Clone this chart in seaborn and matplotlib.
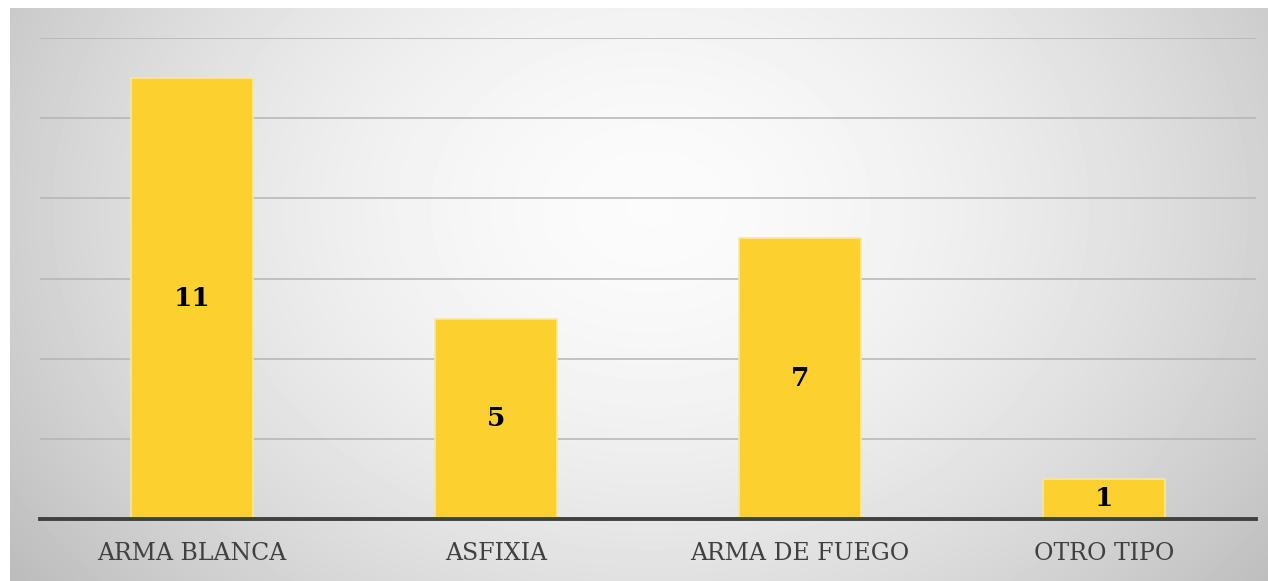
import matplotlib.pyplot as plt
import numpy as np
import pandas as pd
import seaborn as sns

# Data
categorias = ["ARMA BLANCA", "ASFIXIA", "ARMA DE FUEGO", "OTRO TIPO"]
casos = [11, 5, 7, 1]

df = pd.DataFrame({"categoria": categorias, "casos": casos})

sns.set_style("white")
plt.rcParams["font.family"] = ["DejaVu Serif", "DejaVu Sans"]

fig = plt.figure(figsize=(12.68, 5.81), dpi=100)

# Background with radial gradient (grey frame area)
bg = fig.add_axes([10 / 1268, 0, 1258 / 1268, 573 / 581])
bg.set_axis_off()
h, w = 573, 1258
yy, xx = np.mgrid[0:h, 0:w]
cx, cy = 640, 200
r = np.sqrt(((xx - cx) / 720) ** 2 + ((yy - cy) / 560) ** 2)
shade = 0.985 - 0.21 * np.clip(r, 0, 1.2) ** 1.7
bg.imshow(shade, cmap="gray", vmin=0, vmax=1, aspect="auto", interpolation="bilinear")

ax = fig.add_axes([40 / 1268, 62 / 581, 1216 / 1268, 481 / 581])
ax.patch.set_alpha(0)

sns.barplot(data=df, x="categoria", y="casos", color="#FCD02E", width=0.4,
            saturation=1, edgecolor="#F6E7A6", linewidth=1.2, ax=ax, zorder=3)

ax.set_ylim(0, 12)
ax.set_xlim(-0.5, 3.5)
ax.set_yticks(range(0, 13, 2))
ax.yaxis.grid(True, color="#b4b4b4", linewidth=1.1, zorder=0)
ax.set_axisbelow(True)
ax.tick_params(axis="y", left=False, labelleft=False)
ax.tick_params(axis="x", bottom=False, labelsize=17, labelcolor="#404040", pad=13)
for s in ["top", "left", "right"]:
    ax.spines[s].set_visible(False)
ax.spines["bottom"].set_color("#404040")
ax.spines["bottom"].set_linewidth(2.8)
ax.spines["bottom"].set_zorder(5)
ax.set_xlabel("")
ax.set_ylabel("")

for i, v in enumerate(casos):
    ax.text(i, v / 2, str(v), ha="center", va="center", fontsize=19,
            fontweight="heavy", color="black", zorder=6)

fig.savefig("out.png", dpi=100)
